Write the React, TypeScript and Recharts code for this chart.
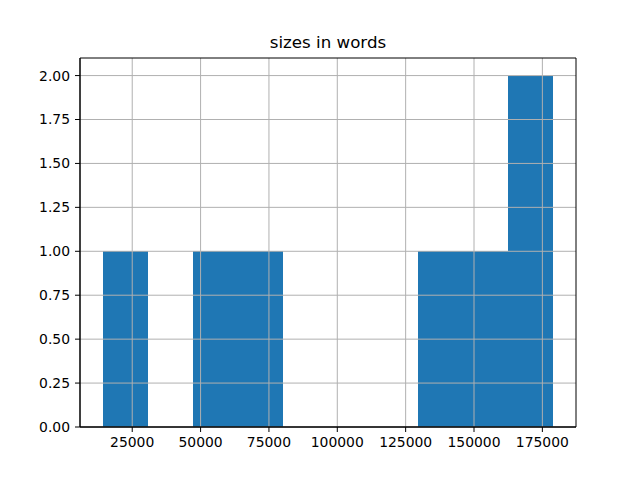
import React from "react";
import { BarChart, Bar, XAxis, YAxis, ReferenceLine } from "recharts";

// histogram bin centers (words) and counts
const binCenters = [22525, 38975, 55425, 71875, 88325, 104775, 121225, 137675, 154125, 170575];
const binCounts = [1, 0, 1, 1, 0, 0, 0, 1, 1, 2];
const xTicks = [25000, 50000, 75000, 100000, 125000, 150000, 175000];
const yTicks = [0, 0.25, 0.5, 0.75, 1.0, 1.25, 1.5, 1.75, 2.0];
const xDomain: [number, number] = [5900, 187300];
const yDomain: [number, number] = [0, 2.1];
const title = "sizes in words";

const data = binCenters.map((c, i) => ({ center: c, count: binCounts[i] }));

const FONT = "DejaVu Sans";
const tickStyle = { fontFamily: FONT, fontSize: 13.9, fill: "#000" };
const GRID = "#b0b0b0";

export default function App() {
  return (
    <div style={{ position: "absolute", left: 0, top: 0, width: 640, height: 480, background: "#fff" }}>
      <div
        style={{
          position: "absolute",
          left: 80,
          width: 496,
          top: 35,
          textAlign: "center",
          fontFamily: FONT,
          fontSize: 16.67,
          lineHeight: 1,
          color: "#000",
        }}
      >
        {title}
      </div>
      <BarChart
        width={640}
        height={480}
        data={data}
        margin={{ top: 58, right: 64, bottom: 23, left: 0 }}
        barCategoryGap={0}
        barGap={0}
      >
        <XAxis
          dataKey="center"
          type="number"
          domain={xDomain}
          ticks={xTicks}
          allowDataOverflow
          height={30}
          tickSize={5}
          tickMargin={5}
          tick={tickStyle}
          axisLine={{ stroke: "#000", strokeWidth: 1 }}
          tickLine={{ stroke: "#000", strokeWidth: 1 }}
          interval={0}
        />
        <YAxis
          type="number"
          domain={yDomain}
          ticks={yTicks}
          allowDataOverflow
          width={80}
          tickSize={5}
          tickMargin={5}
          tick={tickStyle}
          tickFormatter={(v: number) => v.toFixed(2)}
          axisLine={{ stroke: "#000", strokeWidth: 1 }}
          tickLine={{ stroke: "#000", strokeWidth: 1 }}
          interval={0}
        />
        <Bar
          dataKey="count"
          fill="#1f77b4"
          isAnimationActive={false}
          shapeRendering="crispEdges"
        />
        {xTicks.map((t) => (
          <ReferenceLine key={"gx" + t} x={t} stroke={GRID} strokeWidth={1} />
        ))}
        {yTicks.map((t) => (
          <ReferenceLine key={"gy" + t} y={t} stroke={GRID} strokeWidth={1} />
        ))}
        <ReferenceLine y={yDomain[1]} stroke="#000" strokeWidth={1} />
        <ReferenceLine x={xDomain[1]} stroke="#000" strokeWidth={1} />
        <ReferenceLine y={yDomain[0]} stroke="#000" strokeWidth={1} />
        <ReferenceLine x={xDomain[0]} stroke="#000" strokeWidth={1} />
      </BarChart>
    </div>
  );
}
